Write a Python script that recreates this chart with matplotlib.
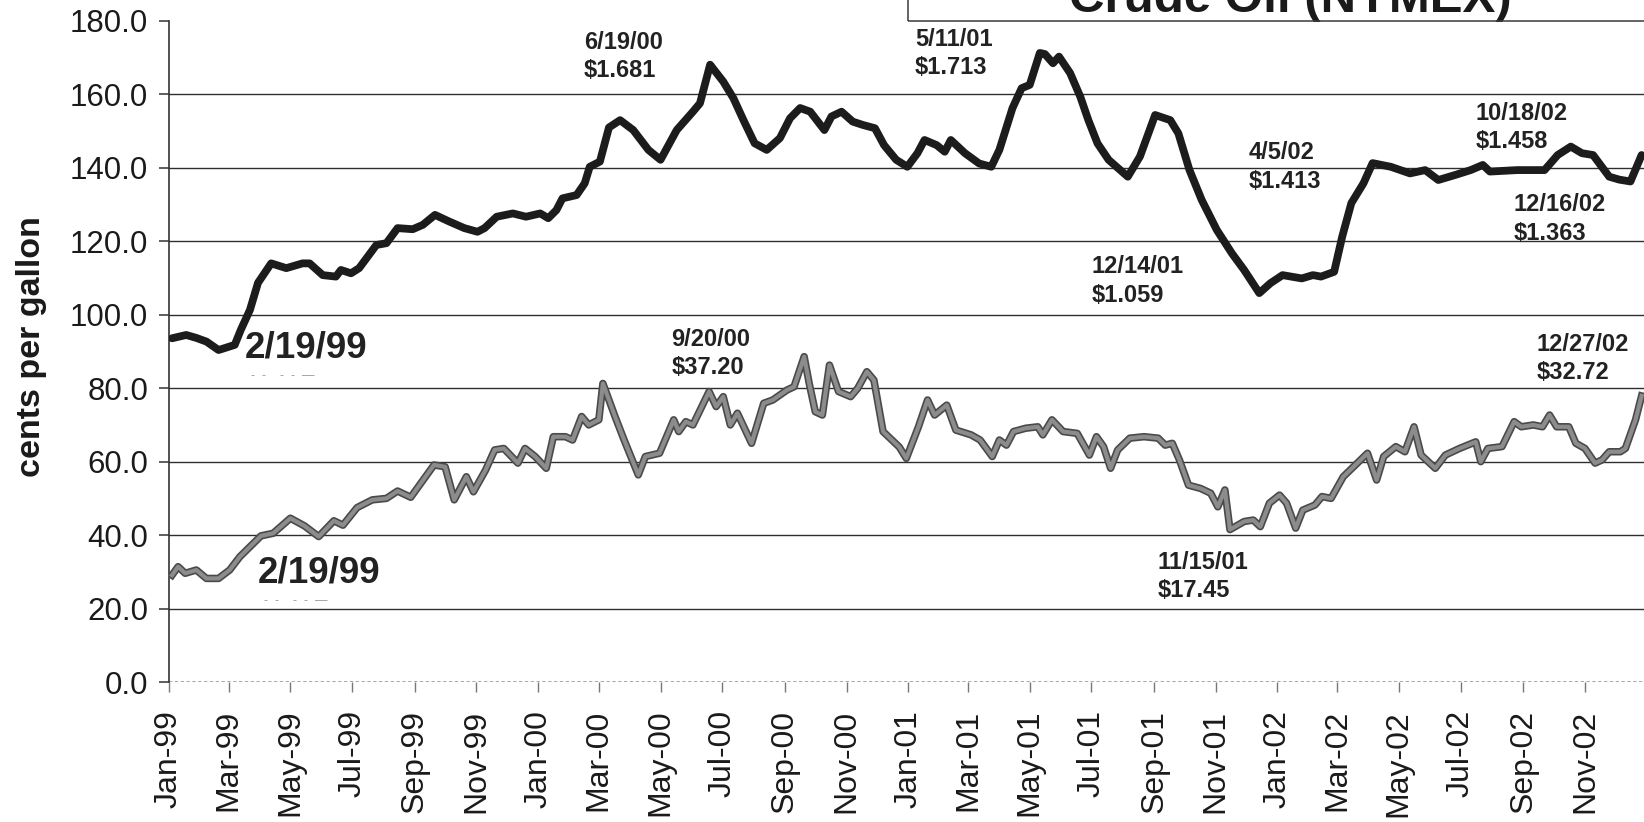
import numpy as np
import matplotlib
matplotlib.use("Agg")
import matplotlib.pyplot as plt
import matplotlib.dates as mdates
import matplotlib.patheffects as pe
from matplotlib.patches import Rectangle

plt.rcParams["font.family"] = ["Liberation Sans", "DejaVu Sans"]

# Unleaded gasoline futures, cents per gallon
gas_dates = [
    "1999-01-04", "1999-01-18", "1999-01-28", "1999-02-07", "1999-02-19", "1999-03-07",
    "1999-03-13", "1999-03-22", "1999-03-30", "1999-04-12", "1999-04-27", "1999-05-13",
    "1999-05-20", "1999-06-02", "1999-06-15", "1999-06-20", "1999-06-30", "1999-07-08",
    "1999-07-25", "1999-08-04", "1999-08-15", "1999-08-30", "1999-09-09", "1999-09-21",
    "1999-10-05", "1999-10-20", "1999-11-02", "1999-11-09", "1999-11-21", "1999-12-07",
    "1999-12-20", "2000-01-03", "2000-01-11", "2000-01-19", "2000-01-25", "2000-02-08",
    "2000-02-16", "2000-02-21", "2000-03-02", "2000-03-11", "2000-03-22", "2000-04-04",
    "2000-04-19", "2000-05-01", "2000-05-17", "2000-06-02", "2000-06-09", "2000-06-19",
    "2000-07-02", "2000-07-12", "2000-07-22", "2000-08-02", "2000-08-14", "2000-08-27",
    "2000-09-06", "2000-09-16", "2000-09-26", "2000-10-10", "2000-10-17", "2000-10-27",
    "2000-11-07", "2000-11-17", "2000-11-29", "2000-12-08", "2000-12-20", "2000-12-31",
    "2001-01-10", "2001-01-17", "2001-01-29", "2001-02-06", "2001-02-12", "2001-02-26",
    "2001-03-12", "2001-03-24", "2001-04-01", "2001-04-14", "2001-04-23", "2001-05-01",
    "2001-05-11", "2001-05-16", "2001-05-24", "2001-05-30", "2001-06-10", "2001-06-20",
    "2001-06-28", "2001-07-07", "2001-07-18", "2001-08-06", "2001-08-18", "2001-09-02",
    "2001-09-17", "2001-09-25", "2001-10-06", "2001-10-18", "2001-11-02", "2001-11-17",
    "2001-11-29", "2001-12-14", "2001-12-25", "2002-01-06", "2002-01-25", "2002-02-05",
    "2002-02-13", "2002-02-26", "2002-03-06", "2002-03-15", "2002-03-27", "2002-04-05",
    "2002-04-23", "2002-05-12", "2002-05-27", "2002-06-09", "2002-06-26", "2002-07-11",
    "2002-07-23", "2002-07-30", "2002-08-26", "2002-09-22", "2002-10-05", "2002-10-18",
    "2002-10-29", "2002-11-09", "2002-11-25", "2002-12-05", "2002-12-16", "2002-12-27",
]
gas_values = [
    93.6, 94.5, 93.7, 92.7, 90.4, 91.8,
    95.9, 101.3, 108.7, 114.0, 112.7, 114.0,
    114.0, 110.8, 110.4, 112.2, 111.3, 112.7,
    119.0, 119.5, 123.6, 123.3, 124.5, 127.2,
    125.4, 123.6, 122.6, 123.6, 126.7, 127.6,
    126.7, 127.6, 126.3, 128.5, 131.7, 132.6,
    135.8, 140.3, 141.7, 151.0, 153.0, 150.3,
    144.9, 142.2, 150.3, 155.3, 157.6, 168.1,
    163.5, 159.0, 153.0, 146.7, 144.9, 148.1,
    153.5, 156.3, 155.3, 150.3, 154.0, 155.3,
    152.6, 151.7, 150.8, 146.2, 142.2, 140.3,
    144.0, 147.6, 146.2, 144.4, 147.6, 144.0,
    141.2, 140.3, 144.9, 156.3, 161.7, 162.6,
    171.3, 171.0, 168.5, 170.3, 165.8, 159.4,
    153.0, 146.7, 142.2, 137.6, 143.1, 154.4,
    153.0, 149.4, 139.4, 131.3, 123.1, 116.7,
    112.2, 105.9, 108.6, 110.8, 109.9, 110.8,
    110.4, 111.7, 121.3, 130.4, 135.8, 141.3,
    140.3, 138.5, 139.4, 136.7, 138.1, 139.4,
    140.8, 139.0, 139.4, 139.4, 143.5, 145.8,
    144.0, 143.5, 137.6, 136.8, 136.3, 143.5,
]

# Light sweet crude futures, converted to cents per gallon
crude_dates = [
    "1999-01-04", "1999-01-10", "1999-01-17", "1999-01-28", "1999-02-07", "1999-02-19",
    "1999-03-02", "1999-03-12", "1999-03-22", "1999-04-02", "1999-04-14", "1999-05-01",
    "1999-05-15", "1999-05-29", "1999-06-13", "1999-06-22", "1999-07-06", "1999-07-21",
    "1999-08-04", "1999-08-15", "1999-08-28", "1999-09-08", "1999-09-20", "1999-10-01",
    "1999-10-10", "1999-10-22", "1999-10-29", "1999-11-10", "1999-11-19", "1999-11-28",
    "1999-12-12", "1999-12-19", "1999-12-29", "2000-01-09", "2000-01-16", "2000-01-28",
    "2000-02-04", "2000-02-13", "2000-02-20", "2000-03-01", "2000-03-05", "2000-03-17",
    "2000-03-26", "2000-04-09", "2000-04-16", "2000-04-30", "2000-05-14", "2000-05-19",
    "2000-05-26", "2000-06-02", "2000-06-18", "2000-06-25", "2000-07-02", "2000-07-09",
    "2000-07-16", "2000-07-30", "2000-08-11", "2000-08-20", "2000-09-03", "2000-09-10",
    "2000-09-20", "2000-09-25", "2000-10-01", "2000-10-08", "2000-10-15", "2000-10-24",
    "2000-11-05", "2000-11-12", "2000-11-21", "2000-11-28", "2000-12-07", "2000-12-23",
    "2000-12-30", "2001-01-11", "2001-01-20", "2001-01-27", "2001-02-08", "2001-02-17",
    "2001-03-04", "2001-03-13", "2001-03-25", "2001-04-01", "2001-04-08", "2001-04-15",
    "2001-04-27", "2001-05-09", "2001-05-14", "2001-05-23", "2001-06-03", "2001-06-17",
    "2001-06-29", "2001-07-06", "2001-07-13", "2001-07-20", "2001-07-27", "2001-08-08",
    "2001-08-22", "2001-09-05", "2001-09-12", "2001-09-19", "2001-09-26", "2001-10-05",
    "2001-10-17", "2001-10-27", "2001-11-03", "2001-11-10", "2001-11-15", "2001-11-29",
    "2001-12-08", "2001-12-15", "2001-12-24", "2002-01-03", "2002-01-10", "2002-01-19",
    "2002-01-26", "2002-02-07", "2002-02-14", "2002-02-23", "2002-03-07", "2002-03-19",
    "2002-03-31", "2002-04-09", "2002-04-16", "2002-04-28", "2002-05-07", "2002-05-16",
    "2002-05-23", "2002-06-06", "2002-06-16", "2002-06-30", "2002-07-16", "2002-07-21",
    "2002-07-28", "2002-08-11", "2002-08-23", "2002-08-30", "2002-09-11", "2002-09-20",
    "2002-09-27", "2002-10-04", "2002-10-16", "2002-10-23", "2002-11-01", "2002-11-11",
    "2002-11-18", "2002-11-25", "2002-12-06", "2002-12-11", "2002-12-21", "2002-12-27",
]
crude_values = [
    29.1, 31.4, 29.6, 30.5, 28.2, 28.2,
    30.5, 34.1, 36.8, 39.8, 40.5, 44.6,
    42.5, 39.6, 43.9, 42.7, 47.5, 49.6,
    50.0, 52.0, 50.3, 54.5, 59.1, 58.6,
    49.6, 55.9, 51.8, 57.7, 63.2, 63.6,
    59.6, 63.6, 61.4, 58.2, 66.8, 66.8,
    65.9, 72.3, 70.0, 71.4, 81.3, 72.3,
    65.9, 56.4, 61.4, 62.3, 71.4, 68.2,
    70.9, 70.0, 79.1, 75.0, 77.7, 70.0,
    73.2, 65.0, 75.9, 76.8, 79.5, 80.4,
    88.6, 81.3, 73.6, 72.7, 86.3, 79.1,
    77.7, 80.0, 84.5, 82.2, 68.2, 64.0,
    60.9, 69.5, 76.8, 72.7, 75.4, 68.6,
    67.3, 65.9, 61.4, 65.9, 64.5, 68.2,
    69.1, 69.5, 67.3, 71.4, 68.2, 67.7,
    61.8, 66.8, 64.1, 58.2, 63.2, 66.4,
    66.8, 66.4, 64.5, 65.0, 60.5, 53.6,
    52.7, 51.4, 47.7, 52.3, 41.5, 43.7,
    44.1, 42.3, 48.7, 50.9, 48.7, 41.9,
    46.8, 48.2, 50.5, 50.0, 55.9, 59.1,
    62.3, 55.0, 61.4, 64.1, 62.7, 69.5,
    61.8, 58.2, 61.8, 63.6, 65.4, 60.0,
    63.6, 64.1, 70.9, 69.5, 70.0, 69.5,
    72.7, 69.5, 69.5, 65.0, 63.6, 59.6,
    60.5, 62.7, 62.7, 63.6, 71.4, 77.9,
]

# Callouts: (date, value, text, offset in pixels from the point)
gas_notes = [
    ("2000-06-19", 168.1, "6/19/00\n$1.681", (-126, 34)),
    ("2001-05-11", 171.3, "5/11/01\n$1.713", (-125, 25)),
    ("2001-12-14", 105.9, "12/14/01\n$1.059", (-168, 38)),
    ("2002-04-05", 141.3, "4/5/02\n$1.413", (-124, 22)),
    ("2002-10-18", 145.8, "10/18/02\n$1.458", (-95, 45)),
    ("2002-12-16", 136.3, "12/16/02\n$1.363", (-117, -12)),
]
crude_notes = [
    ("2000-09-20", 88.6, "9/20/00\n$37.20", (-133, 29)),
    ("2001-11-15", 41.5, "11/15/01\n$17.45", (-72, -21)),
    ("2002-12-27", 77.9, "12/27/02\n$32.72", (-105, 63)),
]
start_notes = [
    ("1999-02-19", 90.4, "2/19/99", (26, 20)),
    ("1999-02-19", 28.2, "2/19/99", (39, 23)),
]

y_ticks = np.arange(0, 181, 20)
x_ticks = np.arange("1999-01", "2002-12", 2, dtype="datetime64[M]")

W, H = 1644, 822
fig = plt.figure(figsize=(W / 100, H / 100), dpi=100)
fig.patch.set_facecolor("white")

ax = fig.add_axes([169 / W, 140 / H, 1508 / W, 661 / H])
ax.set_xlim(np.datetime64("1999-01-01"), np.datetime64("2003-01-31"))
ax.set_ylim(0, 180)

gd = np.array(gas_dates, dtype="datetime64[D]")
cd = np.array(crude_dates, dtype="datetime64[D]")

# horizontal grid
for v in y_ticks[1:-1]:
    ax.axhline(v, color="#2e2e2e", lw=1.0, zorder=1)
ax.axhline(0, color="#9a9a9a", lw=1.2, ls=(0, (2, 1.5)), zorder=1)

ax.plot(gd, gas_values, color="#1c1c1c", lw=5.6, solid_joinstyle="round",
        solid_capstyle="round", zorder=4)
ax.plot(cd, crude_values, color="#8c8c8c", lw=3.0, solid_joinstyle="round",
        zorder=3, path_effects=[pe.Stroke(linewidth=5.4, foreground="#4a4a4a"), pe.Normal()])

for spine in ("top", "right", "bottom"):
    ax.spines[spine].set_visible(False)
ax.spines["left"].set_color("#333333")
ax.spines["left"].set_linewidth(1.2)

ax.set_yticks(y_ticks)
ax.set_yticklabels([f"{v:.1f}" for v in y_ticks])
ax.set_xticks(x_ticks.astype("datetime64[D]"))
ax.xaxis.set_major_formatter(mdates.DateFormatter("%b-%y"))
ax.tick_params(axis="y", direction="out", length=7, width=1.1, color="#333333",
               labelsize=22.5, pad=8, labelcolor="#1a1a1a")
ax.tick_params(axis="x", direction="out", length=7, width=1.0, color="#777777",
               labelsize=23, pad=13, labelrotation=90, labelcolor="#1a1a1a")
for lab in ax.get_xticklabels():
    lab.set_horizontalalignment("center")

ax.set_ylabel("cents per gallon", fontsize=24.5, fontweight="bold", color="#1a1a1a")
ax.yaxis.set_label_coords(-0.081, 0.508)

note_style = dict(fontsize=17, fontweight="bold", color="#222222",
                  ha="left", va="top", linespacing=1.3,
                  textcoords="offset pixels", annotation_clip=False, zorder=6)
for d, v, txt, off in gas_notes + crude_notes:
    ax.annotate(txt, xy=(np.datetime64(d), v), xytext=off, **note_style)

for d, v, txt, off in start_notes:
    ax.annotate(txt, xy=(np.datetime64(d), v), xytext=off, fontsize=26.5,
                fontweight="bold", color="#222222", ha="left", va="top",
                textcoords="offset pixels", zorder=6)
    ax.annotate("-  -    -  -  —", xy=(np.datetime64(d), v),
                xytext=(off[0] + 6, off[1] - 40), fontsize=9, color="#9a9a9a",
                ha="left", va="top", textcoords="offset pixels", zorder=6)

# title panel, running off the top edge
fig.patches.append(Rectangle((908 / W, 1 - 21 / H), 0.5, 0.2, transform=fig.transFigure,
                             fill=False, edgecolor="#3a3a3a", lw=1.1, zorder=10))
fig.text(1290 / W, 1 - 12 / H, "Crude Oil (NYMEX)", fontsize=35.5, fontweight="bold",
         color="#1a1a1a", ha="center", va="baseline")

fig.savefig("out.png", dpi=100)
